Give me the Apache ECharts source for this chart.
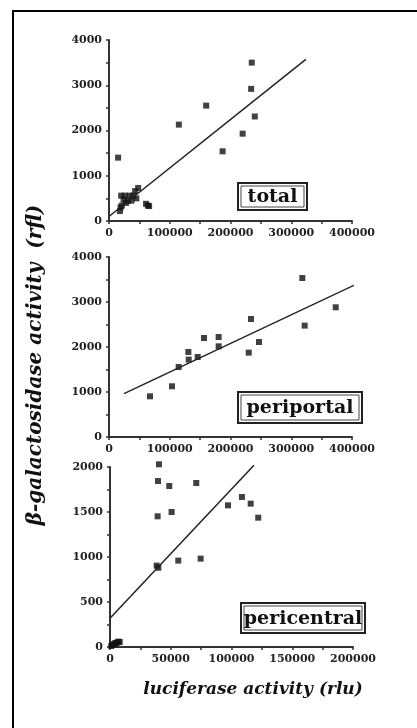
<!DOCTYPE html>
<html>
<head>
<meta charset="utf-8">
<script src="https://cdn.jsdelivr.net/npm/echarts@6/dist/echarts.min.js"></script>
<style>
  html, body { margin: 0; padding: 0; background: #fff; }
  #chart { width: 417px; height: 728px; }
</style>
</head>
<body>
<div id="chart"></div>
<script>
// luciferase (rlu) vs beta-galactosidase (rfl)
var totalX = [15000, 115000, 160000, 187000, 220000, 235000, 234000, 240000,
  18000, 19000, 21000, 20000, 26000, 34000, 31000, 37000, 40000, 43000, 48000, 45000, 61000, 64000, 66000, 28000, 24000];
var totalY = [1400, 2130, 2550, 1540, 1930, 3500, 2920, 2310,
  220, 300, 340, 560, 560, 560, 440, 450, 560, 660, 730, 500, 380, 340, 330, 400, 470];
var totalFitX = [1000, 324000];
var totalFitY = [110, 3570];

var periX = [67500, 103700, 114700, 130600, 131200, 146000, 156400, 180500, 180500, 230000, 233700, 246900, 318200, 322100, 373200];
var periY = [904, 1127, 1556, 1889, 1720, 1778, 2200, 2222, 2015, 1875, 2622, 2111, 3533, 2475, 2882];
var periFitX = [24700, 403000];
var periFitY = [964, 3370];

var centX = [40300, 39500, 39200, 48800, 50700, 38400, 39800, 56200, 71000, 74600, 97100, 108600, 115800, 122000,
  1000, 2000, 3000, 4000, 5000, 6000, 7000, 8000];
var centY = [2030, 1844, 1452, 1789, 1500, 904, 880, 960, 1822, 982, 1574, 1667, 1593, 1437,
  10, 25, 30, 40, 45, 50, 60, 55];
var centFitX = [0, 118500];
var centFitY = [320, 2019];

var xMax = [400000, 400000, 200000];
var yMax = [4000, 4000, 2000];
var panelNames = ['total', 'periportal', 'pericentral'];

function pairs(xs, ys) {
  return xs.map(function (x, i) { return [x, ys[i]]; });
}

var font = 'DejaVu Serif';
var grids = [
  { left: 109, top: 40, width: 243, height: 181 },
  { left: 109, top: 257, width: 243, height: 180 },
  { left: 110, top: 467, width: 243, height: 180 }
];

function plain(v) { return String(v); }

function xAxisFor(i) {
  return {
    type: 'value', gridIndex: i, min: 0, max: xMax[i], interval: xMax[i] / 4,
    axisLine: { lineStyle: { color: '#333', width: 2 } },
    axisTick: { show: true, length: 3, lineStyle: { color: '#333', width: 1.5 } },
    minorTick: { show: true, splitNumber: 2, length: 3, lineStyle: { color: '#333', width: 1.5 } },
    splitLine: { show: false },
    axisLabel: { color: '#222', fontFamily: font, fontWeight: 'bold', fontSize: 11, margin: 7, formatter: plain }
  };
}
function yAxisFor(i) {
  return {
    type: 'value', gridIndex: i, min: 0, max: yMax[i], interval: yMax[i] / 4,
    axisLine: { show: true, lineStyle: { color: '#333', width: 2 } },
    axisTick: { show: true, length: 3, lineStyle: { color: '#333', width: 1.5 } },
    minorTick: { show: true, splitNumber: 2, length: 3, lineStyle: { color: '#333', width: 1.5 } },
    splitLine: { show: false },
    axisLabel: { color: '#222', fontFamily: font, fontWeight: 'bold', fontSize: 11, margin: 7, formatter: plain }
  };
}

var scatterData = [pairs(totalX, totalY), pairs(periX, periY), pairs(centX, centY)];
var fitData = [pairs(totalFitX, totalFitY), pairs(periFitX, periFitY), pairs(centFitX, centFitY)];

var series = [];
[0, 1, 2].forEach(function (i) {
  series.push({
    type: 'line', xAxisIndex: i, yAxisIndex: i, data: fitData[i],
    showSymbol: false, lineStyle: { color: '#222', width: 1.5 }, clip: false, silent: true
  });
  series.push({
    type: 'scatter', xAxisIndex: i, yAxisIndex: i, data: scatterData[i],
    symbol: 'rect', symbolSize: 6, itemStyle: { color: '#111' }, clip: false
  });
});

// boxed panel labels
var boxes = [
  { x: 238, y: 183, w: 69, h: 27 },
  { x: 238, y: 392, w: 124, h: 31 },
  { x: 241, y: 603, w: 124, h: 30 }
];
var graphics = [
  { type: 'line', shape: { x1: 12, y1: 11, x2: 417, y2: 11 }, style: { stroke: '#000', lineWidth: 2 } },
  { type: 'line', shape: { x1: 13, y1: 10, x2: 13, y2: 728 }, style: { stroke: '#000', lineWidth: 2 } },
  {
    type: 'text', x: 36, y: 365, rotation: Math.PI / 2,
    style: { text: 'β-galactosidase activity  (rfl)', font: 'italic bold 20px "DejaVu Serif"',
      fill: '#111', textAlign: 'center', textVerticalAlign: 'middle' }
  },
  {
    type: 'text', x: 253, y: 690,
    style: { text: 'luciferase activity (rlu)', font: 'italic bold 17px "DejaVu Serif"',
      fill: '#111', textAlign: 'center', textVerticalAlign: 'middle' }
  }
];
boxes.forEach(function (b, i) {
  graphics.push({ type: 'rect', shape: { x: b.x, y: b.y, width: b.w, height: b.h },
    style: { fill: '#fff', stroke: '#222', lineWidth: 2 } });
  graphics.push({ type: 'rect', shape: { x: b.x + 3, y: b.y + 3, width: b.w - 6, height: b.h - 6 },
    style: { fill: 'none', stroke: '#444', lineWidth: 1 } });
  graphics.push({ type: 'text', x: b.x + b.w / 2, y: b.y + b.h / 2 + 1,
    style: { text: panelNames[i], font: 'bold 19px "DejaVu Serif"', fill: '#111',
      textAlign: 'center', textVerticalAlign: 'middle' } });
});

var chart = echarts.init(document.getElementById('chart'));
chart.setOption({
  animation: false,
  backgroundColor: '#fff',
  grid: grids,
  xAxis: [0, 1, 2].map(xAxisFor),
  yAxis: [0, 1, 2].map(yAxisFor),
  series: series,
  graphic: graphics
});
</script>
</body>
</html>
